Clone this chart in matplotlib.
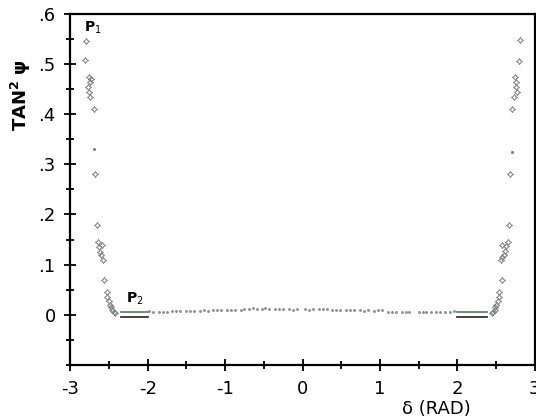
import matplotlib.pyplot as plt
from matplotlib.ticker import MultipleLocator, FixedLocator

# left branch (star markers)
left_x = [-2.81, -2.79, -2.76, -2.75, -2.77, -2.76, -2.74, -2.73, -2.69, -2.68,
          -2.66, -2.64, -2.63, -2.62, -2.60, -2.59, -2.58, -2.56,
          -2.53, -2.52, -2.50, -2.49, -2.47, -2.46, -2.44, -2.42]
left_y = [0.508, 0.546, 0.475, 0.465, 0.455, 0.445, 0.435, 0.47, 0.41, 0.28,
          0.18, 0.145, 0.135, 0.125, 0.12, 0.14, 0.11, 0.07,
          0.045, 0.035, 0.028, 0.02, 0.015, 0.01, 0.006, 0.004]

# right branch (star markers)
right_x = [2.81, 2.80, 2.74, 2.76, 2.75, 2.77, 2.73, 2.70, 2.68, 2.67,
           2.65, 2.63, 2.62, 2.60, 2.58, 2.57, 2.56, 2.57,
           2.54, 2.53, 2.52, 2.50, 2.49, 2.48, 2.46, 2.45]
right_y = [0.548, 0.506, 0.475, 0.465, 0.455, 0.445, 0.435, 0.41, 0.28, 0.18,
           0.145, 0.138, 0.128, 0.12, 0.115, 0.14, 0.11, 0.07,
           0.045, 0.035, 0.028, 0.02, 0.015, 0.01, 0.006, 0.004]

# single dots
odd_x = [-2.69, 2.70]
odd_y = [0.33, 0.325]

# flat part, small dots
mid_x = [-1.98, -1.93, -1.85, -1.80, -1.75, -1.68, -1.63, -1.58, -1.50, -1.45, -1.40,
         -1.32, -1.27, -1.22, -1.16, -1.10, -1.05, -0.98, -0.93, -0.87, -0.80, -0.76,
         -0.69, -0.64, -0.59, -0.53, -0.48, -0.43, -0.35, -0.30, -0.25, -0.17, -0.12,
         -0.07, 0.03, 0.08, 0.13, 0.21, 0.26, 0.31, 0.38, 0.43, 0.48, 0.56, 0.61,
         0.66, 0.74, 0.79, 0.84, 0.92, 0.97, 1.02, 1.10, 1.15, 1.20, 1.28, 1.33,
         1.38, 1.50, 1.55, 1.60, 1.66, 1.72, 1.78, 1.84, 1.90, 1.96]
mid_y = [0.007, 0.006, 0.006, 0.006, 0.006, 0.007, 0.007, 0.007, 0.008, 0.008, 0.008,
         0.008, 0.009, 0.008, 0.009, 0.009, 0.009, 0.009, 0.009, 0.010, 0.010, 0.011,
         0.012, 0.013, 0.012, 0.012, 0.013, 0.012, 0.011, 0.012, 0.011, 0.011, 0.010,
         0.011, 0.011, 0.010, 0.011, 0.011, 0.012, 0.011, 0.009, 0.010, 0.009, 0.009,
         0.010, 0.010, 0.009, 0.008, 0.009, 0.008, 0.009, 0.009, 0.006, 0.006, 0.006,
         0.006, 0.006, 0.006, 0.005, 0.005, 0.005, 0.006, 0.005, 0.005, 0.006, 0.006, 0.008]

# P2 segments
p2_left = [-2.35, -2.0]
p2_right = [2.0, 2.38]
p2_levels = [0.005, -0.004]

x_ticks = [-3, -2, -1, 0, 1, 2, 3]
y_ticks = [0, 0.1, 0.2, 0.3, 0.4, 0.5, 0.6]
y_labels = ['0', '.1', '.2', '.3', '.4', '.5', '.6']

fig = plt.figure(figsize=(5.36, 4.19), dpi=100)
ax = fig.add_axes([0.131, 0.129, 0.867, 0.838])

star = (4, 1, 0)
ax.plot(left_x, left_y, ls='none', marker=star, ms=4.5, mfc='none', mec='#808080', mew=0.7)
ax.plot(right_x, right_y, ls='none', marker=star, ms=4.5, mfc='none', mec='#808080', mew=0.7)
ax.plot(odd_x, odd_y, ls='none', marker='.', ms=2.5, color='#808080')
ax.plot(mid_x, mid_y, ls='none', marker='.', ms=2.2, color='#909090')

ax.plot(p2_left, [p2_levels[0]] * 2, color='#5b8c5a', lw=1.3)
ax.plot(p2_left, [p2_levels[1]] * 2, color='#333333', lw=1.3)
ax.plot(p2_right, [p2_levels[0]] * 2, color='#5b8c5a', lw=1.3)
ax.plot(p2_right, [p2_levels[1]] * 2, color='#333333', lw=1.3)

ax.text(-2.82, 0.565, 'P$_1$', fontsize=10, fontweight='bold')
ax.text(-2.28, 0.025, 'P$_2$', fontsize=10, fontweight='bold')

ax.set_xlim(-3, 3)
ax.set_ylim(-0.1, 0.6)

ax.xaxis.set_major_locator(FixedLocator(x_ticks))
ax.xaxis.set_minor_locator(MultipleLocator(0.5))
ax.yaxis.set_major_locator(FixedLocator(y_ticks))
ax.yaxis.set_minor_locator(MultipleLocator(0.05))
ax.set_xticklabels([str(v) for v in x_ticks])
ax.set_yticklabels(y_labels)

ax.tick_params(which='both', direction='inout', width=1.3, labelsize=13, pad=6)
ax.tick_params(which='major', length=9)
ax.tick_params(which='minor', length=6)
for s in ax.spines.values():
    s.set_linewidth(1.6)

ax.set_ylabel('TAN$^{\\mathbf{2}}$ ψ', fontsize=13, fontweight='bold')
ax.yaxis.set_label_coords(-0.08, 0.77)
ax.set_xlabel('δ (RAD)', fontsize=13)
ax.xaxis.set_label_coords(0.787, -0.1)

fig.savefig('out.png', dpi=100)
